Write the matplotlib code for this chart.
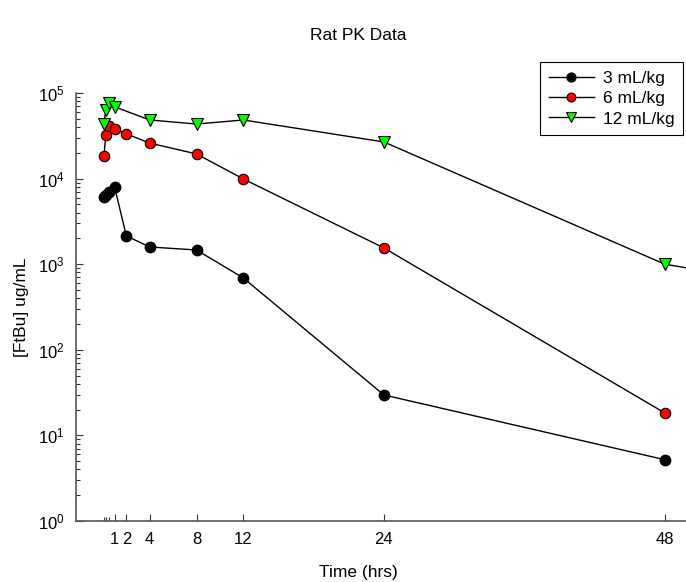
import numpy as np
import matplotlib
matplotlib.use("Agg")
import matplotlib.pyplot as plt
from matplotlib.ticker import LogLocator, FixedLocator

plt.rcParams['font.family'] = ['Liberation Sans', 'DejaVu Sans']
plt.rcParams['mathtext.fontset'] = 'custom'
plt.rcParams['mathtext.rm'] = 'Liberation Sans'
plt.rcParams['mathtext.it'] = 'Liberation Sans'
plt.rcParams['mathtext.default'] = 'regular'

# --- data ---
t_3 = [0.083, 0.25, 0.5, 1, 2, 4, 8, 12, 24, 48]
c_3 = [6100, 6500, 6950, 7950, 2140, 1590, 1465, 690, 29.7, 5.2]

t_6 = [0.083, 0.25, 0.5, 1, 2, 4, 8, 12, 24, 48]
c_6 = [18400, 32300, 41000, 38000, 33300, 26000, 19400, 9900, 1550, 18.3]

t_12 = [0.083, 0.25, 0.5, 1, 4, 8, 12, 24, 48, 72]
c_12 = [43400, 63500, 76000, 69000, 48400, 43400, 48400, 26800, 1000, 280]

major_ticks = [1, 2, 4, 8, 12, 24, 48]
minor_ticks = [0.083, 0.25, 0.5]

fig = plt.figure(figsize=(6.86, 5.82), dpi=100)
W, H = 686, 582
ax = fig.add_axes([76 / W, 1 - 521 / H, (687 - 76) / W, (521 - 93) / H])

ax.plot(t_3, c_3, '-o', color='black', lw=1, mfc='black', mec='black',
        ms=7.5, label='3 mL/kg')
ax.plot(t_6, c_6, '-o', color='black', lw=1, mfc='#ff0000', mec='black',
        mew=0.8, ms=7.5, label='6 mL/kg')
ax.plot(t_12, c_12, '-v', color='black', lw=1, mfc='#00ff00', mec='black',
        mew=0.8, ms=8.5, label='12 mL/kg')

ax.set_yscale('log')
ax.set_ylim(1, 1e5)
ax.set_xlim(-2.3, 49.9)

ax.xaxis.set_major_locator(FixedLocator(major_ticks))
ax.xaxis.set_minor_locator(FixedLocator(minor_ticks))
ax.yaxis.set_major_locator(LogLocator(base=10, numticks=10))
ax.yaxis.set_minor_locator(LogLocator(base=10, subs=np.arange(2, 10), numticks=20))

ax.tick_params(axis='both', which='both', direction='in', colors='#333333',
               labelcolor='black', labelsize=12, width=0.8)
ax.tick_params(which='major', length=5)
ax.tick_params(which='minor', length=3)
ax.tick_params(axis='x', pad=8)
ax.tick_params(axis='y', pad=8)

for side in ['top', 'right']:
    ax.spines[side].set_visible(False)
for side in ['left', 'bottom']:
    ax.spines[side].set_color('#555555')
    ax.spines[side].set_linewidth(1.2)

ax.set_ylabel('[FtBu] ug/mL', fontsize=12.5)
ax.yaxis.set_label_coords(-(76 - 29) / 611, 0.5)
fig.text(358 / W, 1 - 572 / H, 'Time (hrs)', ha='center', va='center', fontsize=12.5)
fig.text(358 / W, 1 - 35 / H, 'Rat PK Data', ha='center', va='center', fontsize=12.5)

leg = ax.legend(loc='upper right', bbox_to_anchor=((683 - 76) / 611, 1 + (93 - 62) / 428),
                borderaxespad=0, fontsize=12.5, frameon=True, fancybox=False,
                edgecolor='black', framealpha=1, handlelength=2.6, borderpad=0.5,
                labelspacing=0.3, handletextpad=0.5, markerscale=0.85)
leg.get_frame().set_linewidth(0.8)

fig.savefig('out.png', dpi=100)
